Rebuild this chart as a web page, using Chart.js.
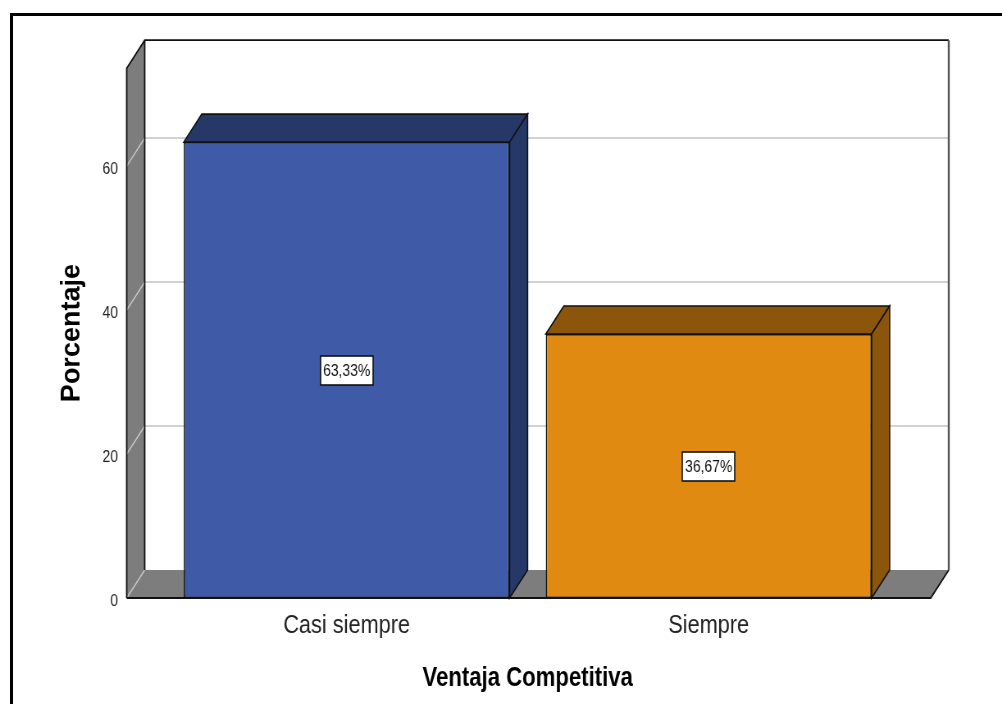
<!DOCTYPE html>
<html>
<head>
<meta charset="utf-8">
<script src="https://cdn.jsdelivr.net/npm/chart.js@4.4.0/dist/chart.umd.min.js"></script>
<style>
  html, body { margin: 0; padding: 0; background: #fff; overflow: hidden; }
  #wrap { position: relative; width: 1002px; height: 704px; }
  #frame { position: absolute; left: 10px; top: 13px; right: -10px; bottom: -10px; border-left: 3px solid #000; border-top: 3px solid #000; }
  /* the original export is squeezed horizontally; draw wide, then squeeze */
  #squeeze { position: absolute; left: 0; top: 0; width: 1222px; height: 704px; transform: scaleX(0.82); transform-origin: 0 0; }
</style>
</head>
<body>
<div id="wrap">
  <div id="frame"></div>
  <div id="squeeze"><canvas id="chart" width="1222" height="704"></canvas></div>
</div>
<script>
/* === Data === */
const categories = ['Casi siempre', 'Siempre'];
const percentages = [63.33, 36.67];
const yTicks = [0, 20, 40, 60];
const yMax = 73.6;
const yTitle = 'Porcentaje';
const xTitle = 'Ventaja Competitiva';

// front face / top+side face
const frontColors = ['#3F5BA8', '#E08A12'];
const sideColors = ['#263868', '#8B560B'];

const SQ = 0.82;           // horizontal squeeze applied by CSS
const DX = 22, DY = -28;   // depth offset of the 3D box (canvas units)
const SANS = "'Liberation Sans', Arial, sans-serif";

// walls, floor and gridlines behind the bars
const box3d = {
  id: 'box3d',
  beforeDatasetsDraw(chart) {
    const ctx = chart.ctx;
    const y = chart.scales.y;
    const a = chart.chartArea;
    const L = a.left - 47.5, R = a.right + 50;
    const top = y.getPixelForValue(y.max), bot = y.getPixelForValue(0);
    ctx.save();

    // back wall
    ctx.fillStyle = '#fff';
    ctx.fillRect(L + DX, top + DY, R - L, bot - top);

    // left wall
    ctx.fillStyle = '#7d7d7d';
    ctx.beginPath();
    ctx.moveTo(L, bot); ctx.lineTo(L, top); ctx.lineTo(L + DX, top + DY); ctx.lineTo(L + DX, bot + DY);
    ctx.closePath(); ctx.fill();

    // floor
    ctx.beginPath();
    ctx.moveTo(L, bot); ctx.lineTo(L + DX, bot + DY); ctx.lineTo(R + DX, bot + DY); ctx.lineTo(R, bot);
    ctx.closePath(); ctx.fill();

    // gridlines
    ctx.strokeStyle = '#c4c4c4';
    ctx.lineWidth = 1.5;
    y.ticks.forEach(t => {
      const yp = y.getPixelForValue(t.value);
      ctx.beginPath();
      ctx.moveTo(L, yp); ctx.lineTo(L + DX, yp + DY);
      if (t.value > 0) ctx.lineTo(R + DX, yp + DY);
      ctx.stroke();
    });

    // outlines
    ctx.strokeStyle = '#111';
    ctx.lineWidth = 1.8;
    ctx.beginPath();
    ctx.moveTo(L, bot); ctx.lineTo(L, top); ctx.lineTo(L + DX, top + DY); ctx.lineTo(R + DX, top + DY);
    ctx.moveTo(L + DX, top + DY); ctx.lineTo(L + DX, bot + DY);
    ctx.moveTo(L, bot); ctx.lineTo(R, bot); ctx.lineTo(R + DX, bot + DY);
    ctx.stroke();
    ctx.strokeStyle = '#555';
    ctx.lineWidth = 2.4;
    ctx.beginPath();
    ctx.moveTo(R + DX, top + DY); ctx.lineTo(R + DX, bot + DY);
    ctx.stroke();
    ctx.restore();
  },

  afterDatasetsDraw(chart) {
    const ctx = chart.ctx;
    const meta = chart.getDatasetMeta(0);
    ctx.save();
    meta.data.forEach((bar, i) => {
      const { x, y, base, width } = bar.getProps(['x', 'y', 'base', 'width'], true);
      const l = x - width / 2, r = x + width / 2;
      ctx.fillStyle = sideColors[i];
      ctx.strokeStyle = '#111';
      ctx.lineWidth = 1.6;
      // top face
      ctx.beginPath();
      ctx.moveTo(l, y); ctx.lineTo(l + DX, y + DY); ctx.lineTo(r + DX, y + DY); ctx.lineTo(r, y);
      ctx.closePath(); ctx.fill(); ctx.stroke();
      // side face
      ctx.beginPath();
      ctx.moveTo(r, y); ctx.lineTo(r + DX, y + DY); ctx.lineTo(r + DX, base + DY); ctx.lineTo(r, base);
      ctx.closePath(); ctx.fill(); ctx.stroke();

      // value label
      const txt = percentages[i].toFixed(2).replace('.', ',') + '%';
      ctx.font = '17px ' + SANS;
      const tw = ctx.measureText(txt).width;
      const bw = Math.round(tw + 6), bh = 29;
      const cy = (y + base) / 2;
      const bx = Math.round(x - bw / 2), by = Math.round(cy - bh / 2);
      ctx.fillStyle = '#fff';
      ctx.fillRect(bx, by, bw, bh);
      ctx.strokeStyle = '#111';
      ctx.lineWidth = 1.6;
      ctx.strokeRect(bx, by, bw, bh);
      ctx.fillStyle = '#111';
      ctx.textAlign = 'center';
      ctx.textBaseline = 'middle';
      ctx.fillText(txt, x, cy + 1);
    });
    ctx.restore();
  },

  // rotated y title, un-squeezed so it keeps its normal proportions
  afterDraw(chart) {
    const ctx = chart.ctx;
    const a = chart.chartArea;
    ctx.save();
    ctx.translate(72 / SQ, (a.top + a.bottom) / 2);
    ctx.scale(1 / SQ, 1);
    ctx.rotate(-Math.PI / 2);
    ctx.font = 'bold 27px ' + SANS;
    ctx.fillStyle = '#000';
    ctx.textAlign = 'center';
    ctx.textBaseline = 'middle';
    ctx.fillText(yTitle, 0, 0);
    ctx.restore();
  }
};

new Chart(document.getElementById('chart'), {
  type: 'bar',
  data: {
    labels: categories,
    datasets: [{
      data: percentages,
      backgroundColor: frontColors,
      borderColor: '#111',
      borderWidth: 1.6,
      borderSkipped: false,
      barPercentage: 0.9,
      categoryPercentage: 1
    }]
  },
  options: {
    responsive: false,
    animation: false,
    devicePixelRatio: 1,
    layout: { padding: { left: 0, top: 67, right: 137, bottom: 0 } },
    plugins: { legend: { display: false }, tooltip: { enabled: false } },
    scales: {
      x: {
        offset: true,
        grid: { display: false, drawTicks: false },
        border: { display: false },
        ticks: { color: '#222', font: { family: SANS, size: 26.5 }, padding: 12, maxRotation: 0, autoSkip: false },
        title: {
          display: true, text: xTitle, color: '#000',
          font: { family: SANS, size: 27, weight: 'bold', lineHeight: 1 },
          padding: { top: 0, bottom: 12 }
        },
        afterFit(s) { s.height = 106; }
      },
      y: {
        min: 0,
        max: yMax,
        grid: { display: false, drawTicks: false },
        border: { display: false },
        afterBuildTicks(s) { s.ticks = yTicks.map(v => ({ value: v })); },
        ticks: { color: '#222', font: { family: SANS, size: 17 }, padding: 58, labelOffset: 3 },
        title: { display: false },
        afterFit(s) { s.width = 202; }
      }
    }
  },
  plugins: [box3d]
});
</script>
</body>
</html>
